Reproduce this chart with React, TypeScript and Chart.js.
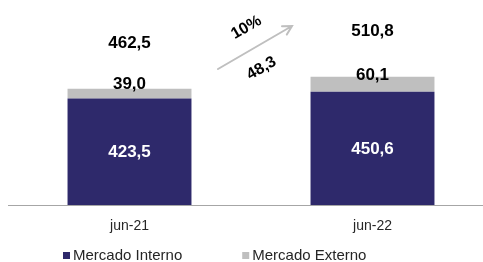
import React, { useEffect, useRef } from "react";
import { Chart, registerables } from "chart.js";

Chart.register(...registerables);

const categories = ["jun-21", "jun-22"];
const seriesNames = ["Mercado Interno", "Mercado Externo"];
const mercadoInterno = [423.5, 450.6];
const mercadoExterno = [39.0, 60.1];
const totals = [462.5, 510.8];
const growthPct = "10%";
const growthAbs = 48.3;

const NAVY = "#2E296B";
const GRAY = "#BFBFBF";
const TEXT = "#262626";
const FONT = "'Liberation Sans', Arial, sans-serif";

const fmt = (v: number) => v.toFixed(1).replace(".", ",");

const overlayPlugin = {
  id: "overlay",
  afterDatasetsDraw(chart: any) {
    const ctx = chart.ctx as CanvasRenderingContext2D;
    const yScale = chart.scales.y;
    const area = chart.chartArea;
    const m0 = chart.getDatasetMeta(0);
    const m1 = chart.getDatasetMeta(1);
    ctx.save();
    ctx.textAlign = "center";
    ctx.textBaseline = "middle";
    ctx.font = `bold 17px ${FONT}`;

    m0.data.forEach((bar: any, i: number) => {
      const p = bar.getProps(["x", "y", "base"], true);
      ctx.fillStyle = "#FFFFFF";
      ctx.fillText(fmt(mercadoInterno[i]), p.x, (p.y + p.base) / 2 + 1);
    });
    m1.data.forEach((bar: any, i: number) => {
      const p = bar.getProps(["x", "y", "base"], true);
      ctx.fillStyle = "#000000";
      ctx.fillText(fmt(mercadoExterno[i]), p.x, (p.y + p.base) / 2 - 9);
      ctx.fillText(fmt(totals[i]), p.x, yScale.getPixelForValue(totals[i]) - 45);
    });

    // growth arrow
    const mid = (m0.data[0].x + m0.data[1].x) / 2;
    const x1 = mid - 33, y1 = area.top + 65;
    const x2 = mid + 41, y2 = area.top + 22;
    const ang = Math.atan2(y2 - y1, x2 - x1);
    ctx.strokeStyle = GRAY;
    ctx.lineWidth = 2;
    ctx.lineCap = "round";
    ctx.beginPath();
    ctx.moveTo(x1, y1);
    ctx.lineTo(x2, y2);
    const hl = 10;
    ctx.moveTo(x2 - hl * Math.cos(ang - 0.5), y2 - hl * Math.sin(ang - 0.5));
    ctx.lineTo(x2, y2);
    ctx.lineTo(x2 - hl * Math.cos(ang + 0.5), y2 - hl * Math.sin(ang + 0.5));
    ctx.stroke();

    ctx.fillStyle = "#000000";
    ctx.font = `bold 16px ${FONT}`;
    ctx.save();
    ctx.translate(mid - 4.5, area.top + 23.5);
    ctx.rotate(ang);
    ctx.fillText(growthPct, 0, 0);
    ctx.restore();
    ctx.save();
    ctx.translate(mid + 10.5, area.top + 64.3);
    ctx.rotate(ang);
    ctx.fillText(fmt(growthAbs), 0, 0);
    ctx.restore();

    // legend
    ctx.textAlign = "left";
    ctx.font = `15px ${FONT}`;
    const colors = [NAVY, GRAY];
    let lx = 63;
    const ly = 255.5;
    seriesNames.forEach((name, i) => {
      ctx.fillStyle = colors[i];
      ctx.fillRect(lx, ly - 3.5, 7, 7);
      ctx.fillStyle = TEXT;
      ctx.fillText(name, lx + 10, ly);
      lx += 10 + ctx.measureText(name).width + 60;
    });
    ctx.restore();
  },
};

export default function App() {
  const ref = useRef<HTMLCanvasElement>(null);
  useEffect(() => {
    if (!ref.current) return;
    const chart = new Chart(ref.current, {
      type: "bar",
      data: {
        labels: categories,
        datasets: [
          { label: seriesNames[0], data: mercadoInterno, backgroundColor: NAVY, borderWidth: 0 },
          { label: seriesNames[1], data: mercadoExterno, backgroundColor: GRAY, borderWidth: 0 },
        ],
      },
      options: {
        responsive: false,
        devicePixelRatio: 1,
        animation: false,
        layout: { padding: { left: 8, right: 6, top: 4, bottom: 20 } },
        plugins: { legend: { display: false }, tooltip: { enabled: false } },
        datasets: { bar: { barPercentage: 0.51, categoryPercentage: 1 } },
        scales: {
          x: {
            stacked: true,
            grid: { display: false },
            border: { display: true, color: "#A6A6A6", width: 1 },
            ticks: { color: TEXT, font: { family: FONT, size: 14 }, padding: 5 },
            afterFit: (s: any) => {
              s.height = 37;
            },
          },
          y: {
            stacked: true,
            display: false,
            min: 0,
            max: 800,
          },
        },
      },
      plugins: [overlayPlugin],
    });
    return () => chart.destroy();
  }, []);
  return (
    <div style={{ position: "absolute", left: 0, top: 0, width: 483, height: 262, overflow: "hidden", background: "#fff" }}>
      <canvas ref={ref} width={500} height={262} style={{ display: "block" }} />
    </div>
  );
}
